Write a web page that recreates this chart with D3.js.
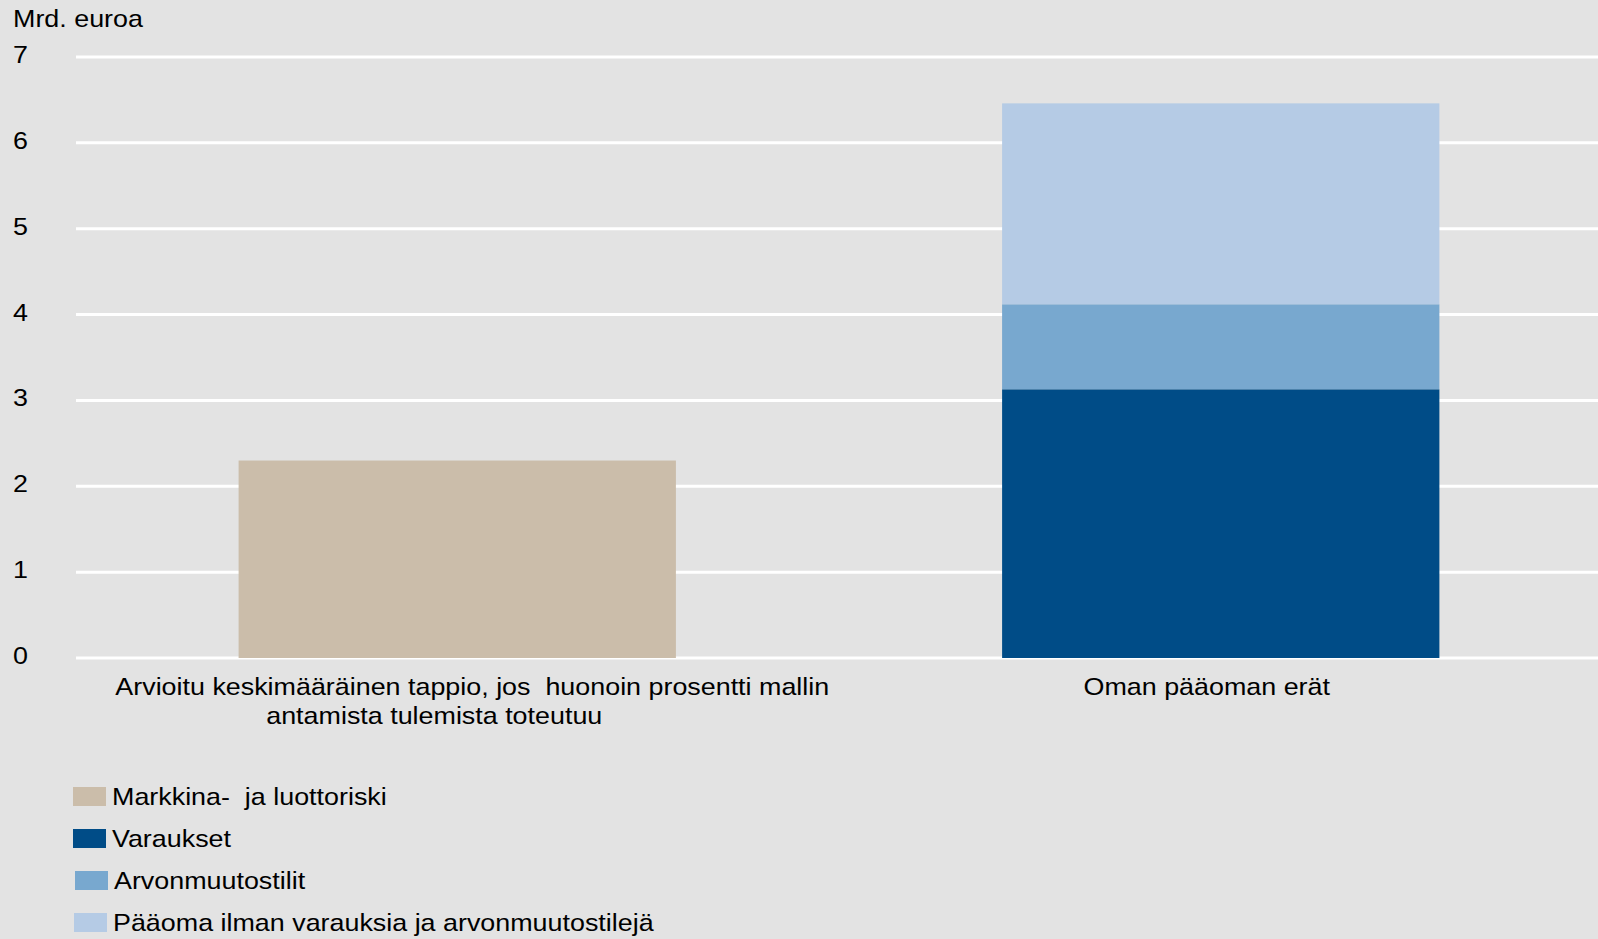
<!DOCTYPE html>
<html><head><meta charset="utf-8">
<script src="https://cdn.jsdelivr.net/npm/d3@7"></script>
<style>
html,body{margin:0;padding:0;background:#e3e3e3;}
svg{display:block;}
text{font-family:"Liberation Sans",Arial,sans-serif;fill:#000;white-space:pre;}
</style></head>
<body>
<script>
const categories = ["cat1", "cat2"];
const categoryLabels = [
  ["Arvioitu keskimääräinen tappio, jos  huonoin prosentti mallin", "antamista tulemista toteutuu"],
  ["Oman pääoman erät"]
];
const seriesNames = ["Markkina-  ja luottoriski", "Varaukset", "Arvonmuutostilit", "Pääoma ilman varauksia ja arvonmuutostilejä"];
const markkina = [2.30, 0];
const varaukset = [0, 3.13];
const arvonmuutos = [0, 0.99];
const paaoma = [0, 2.34];
const colors = ["#cbbdaa", "#004c87", "#78a8cf", "#b5cbe5"];
const yTicks = [0, 1, 2, 3, 4, 5, 6, 7];
const yTitle = "Mrd. euroa";

const W = 1598, H = 939;
const SX = 1.12; // horizontal text stretch
const svg = d3.select("body").append("svg").attr("width", W).attr("height", H);
svg.append("rect").attr("width", W).attr("height", H).attr("fill", "#e3e3e3");

function label(px, py, str, anchor) {
  const g = svg.append("g").attr("transform", `translate(${px},${py}) scale(${SX},1)`);
  g.append("text").attr("x", 0).attr("y", 0).attr("font-size", 24)
    .attr("text-anchor", anchor || "start").text(str);
  return g;
}

const y = d3.scaleLinear().domain([0, 7]).range([658, 57]);
const x = d3.scaleBand().domain(categories).range([77, 1598]).padding(0);
const barW = x.bandwidth() * 0.575;

// gridlines
svg.append("g").selectAll("line").data(yTicks).join("line")
  .attr("x1", 76).attr("x2", W)
  .attr("y1", d => y(d)).attr("y2", d => y(d))
  .attr("stroke", "#fff").attr("stroke-width", 3);

// tick labels
yTicks.forEach(d => label(13, y(d) + 6, String(d)));
label(13, 27, yTitle);

// stacked bars
const rows = categories.map((c, i) => ({cat: c, s0: markkina[i], s1: varaukset[i], s2: arvonmuutos[i], s3: paaoma[i]}));
const stack = d3.stack().keys(["s0", "s1", "s2", "s3"])(rows);
const barShift = [0, 3];
svg.append("g").selectAll("g").data(stack).join("g")
  .attr("fill", (d, i) => colors[i])
  .selectAll("rect").data(d => d.filter(p => p[1] - p[0] > 0)).join("rect")
  .attr("x", d => x(d.data.cat) + (x.bandwidth() - barW) / 2 + barShift[categories.indexOf(d.data.cat)])
  .attr("width", barW)
  .attr("y", d => y(d[1]))
  .attr("height", d => y(d[0]) - y(d[1]));

// category labels
const labelDx = [[15, -23], [-11]];
categories.forEach((c, i) => {
  categoryLabels[i].forEach((line, j) => {
    label(x(c) + x.bandwidth() / 2 + labelDx[i][j], 695 + j * 29, line, "middle");
  });
});

// legend
const legendDx = [0, 0, 2, 1];
seriesNames.forEach((n, i) => {
  const cy = 796 + i * 42;
  svg.append("rect").attr("x", 73 + legendDx[i]).attr("y", cy - 9).attr("width", 33).attr("height", 19).attr("fill", colors[i]);
  label(112 + legendDx[i], cy + 9, n);
});
</script>
</body></html>
